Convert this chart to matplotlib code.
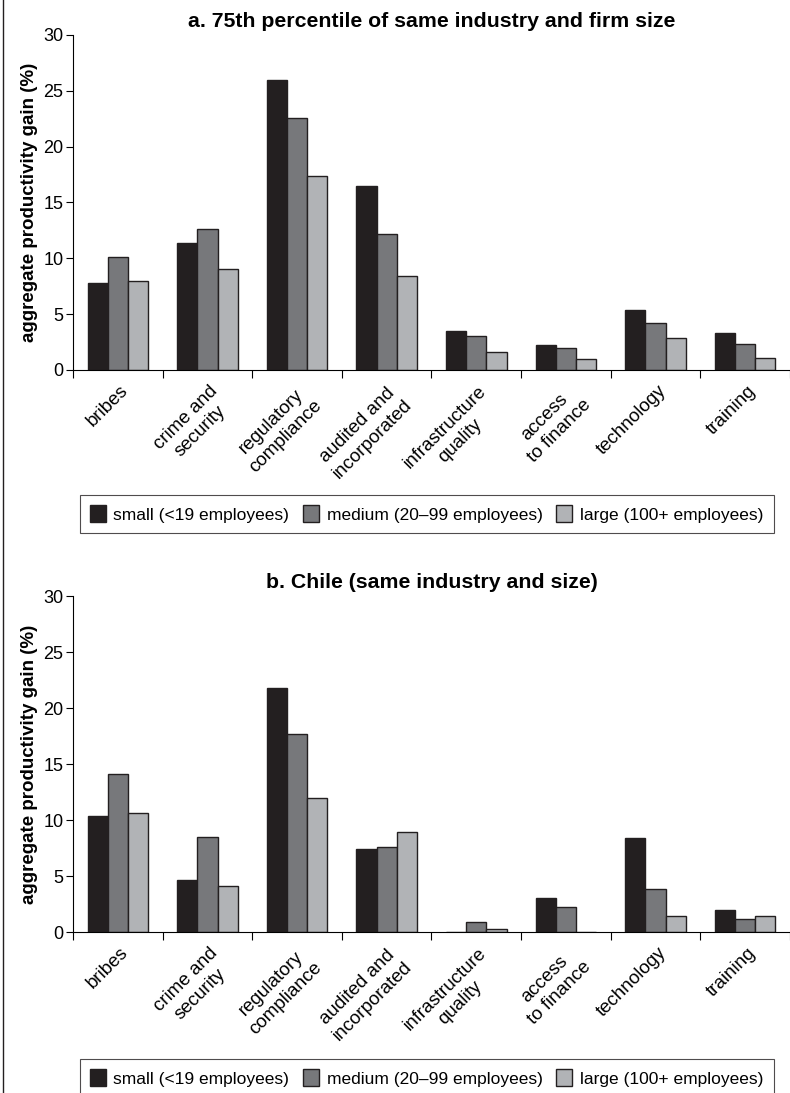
import numpy as np
import matplotlib
matplotlib.use("Agg")
import matplotlib.pyplot as plt
from matplotlib.lines import Line2D

plt.rcParams['font.family'] = ['Liberation Sans', 'DejaVu Sans']

# categories and series
categories = ['bribes', 'crime and\nsecurity', 'regulatory\ncompliance',
              'audited and\nincorporated', 'infrastructure\nquality',
              'access\nto finance', 'technology', 'training']
series_names = ['small (<19 employees)', 'medium (20\u201399 employees)',
                'large (100+ employees)']

# panel a: 75th percentile of same industry and firm size
a_small = [7.8, 11.4, 26.0, 16.5, 3.5, 2.2, 5.4, 3.3]
a_medium = [10.1, 12.6, 22.6, 12.2, 3.0, 1.95, 4.25, 2.3]
a_large = [8.0, 9.0, 17.4, 8.4, 1.6, 1.0, 2.9, 1.1]

# panel b: Chile (same industry and size)
b_small = [10.4, 4.6, 21.8, 7.4, 0.0, 3.0, 8.4, 1.95]
b_medium = [14.1, 8.45, 17.7, 7.6, 0.85, 2.2, 3.85, 1.2]
b_large = [10.6, 4.1, 11.95, 8.9, 0.25, 0.0, 1.45, 1.45]

colors = ['#231f20', '#77787b', '#b1b3b6']

fig = plt.figure(figsize=(7.9, 10.93), dpi=100)

# panel rectangles: left, bottom, width, height
ax_a = fig.add_axes([0.0924, 0.6615, 0.9076, 0.3065])
ax_b = fig.add_axes([0.0924, 0.1473, 0.9076, 0.3074])


def draw_panel(ax, values, title, legend_y):
    x = np.arange(len(categories))
    w = 0.225
    for i, vals in enumerate(values):
        ax.bar(x + (i - 1) * w, vals, width=w, color=colors[i],
               edgecolor='#231f20', linewidth=1.0, label=series_names[i])

    ax.set_xlim(-0.5, len(categories) - 0.5)
    ax.set_ylim(0, 30)
    ax.set_yticks([0, 5, 10, 15, 20, 25, 30])
    ax.tick_params(axis='y', labelsize=13, length=5, width=0.8, pad=2)

    # tick marks at category boundaries, labels at centres
    ax.set_xticks(np.arange(len(categories) + 1) - 0.5)
    ax.set_xticklabels([])
    ax.tick_params(axis='x', length=6, width=0.8)
    for xi, lab in zip(x, categories):
        ax.text(xi + 0.02, -1.1, lab, rotation=45, ha='right', va='top',
                rotation_mode='anchor', multialignment='center',
                fontsize=13.5, linespacing=1.25)

    for side in ['top', 'right']:
        ax.spines[side].set_visible(False)
    ax.spines['left'].set_linewidth(0.8)
    ax.spines['bottom'].set_linewidth(0.8)

    ax.set_ylabel('aggregate productivity gain (%)', fontsize=13.5,
                  fontweight='bold', labelpad=4)
    ax.set_title(title, fontsize=15.3, fontweight='bold', pad=6, x=0.5)

    leg = ax.legend(loc='center', bbox_to_anchor=(0.54, legend_y),
                    bbox_transform=fig.transFigure, ncol=3, frameon=True,
                    fancybox=False, edgecolor='#231f20', fontsize=12.5,
                    handlelength=0.9, handleheight=1.1, handletextpad=0.45,
                    columnspacing=0.8, borderpad=0.6)
    leg.get_frame().set_linewidth(0.8)


draw_panel(ax_a, [a_small, a_medium, a_large],
           'a. 75th percentile of same industry and firm size', 1 - 514 / 1093)
draw_panel(ax_b, [b_small, b_medium, b_large],
           'b. Chile (same industry and size)', 1 - 1078 / 1093)

# left border line of the original frame
fig.add_artist(Line2D([0.004, 0.004], [0, 1], color='#231f20', linewidth=1.0,
                      transform=fig.transFigure))

fig.savefig('out.png', dpi=100)
